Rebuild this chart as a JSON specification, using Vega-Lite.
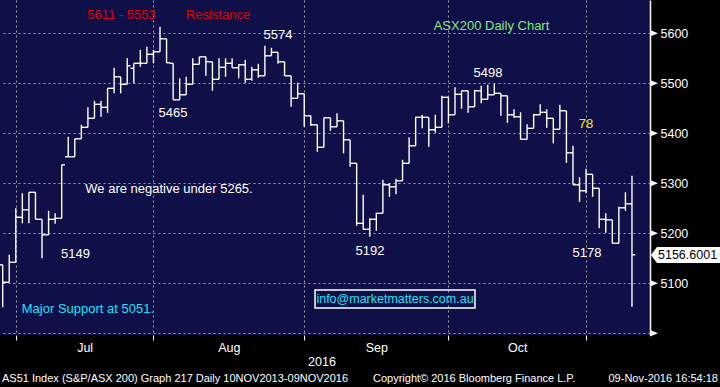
{
  "$schema": "https://vega.github.io/schema/vega-lite/v6.json",
  "width": 650,
  "height": 335,
  "autosize": {"type": "none"},
  "padding": {"left": 0, "top": 0, "right": 70, "bottom": 52},
  "background": "#000000",
  "config": {
    "font": "Liberation Sans",
    "view": {"fill": "#101048", "stroke": null}
  },
  "datasets": {
    "bars": [
      {"i":0,"o":5137,"h":5137,"l":5052,"c":5102},
      {"i":1,"o":5102,"h":5157,"l":5102,"c":5142},
      {"i":2,"o":5142,"h":5250,"l":5142,"c":5232},
      {"i":3,"o":5232,"h":5280,"l":5220,"c":5247},
      {"i":4,"o":5247,"h":5282,"l":5220,"c":5282},
      {"i":5,"o":5282,"h":5282,"l":5228,"c":5228},
      {"i":6,"o":5228,"h":5228,"l":5150,"c":5197},
      {"i":7,"o":5197,"h":5245,"l":5197,"c":5228},
      {"i":8,"o":5228,"h":5240,"l":5219,"c":5230},
      {"i":9,"o":5230,"h":5337,"l":5230,"c":5337},
      {"i":10,"o":5353,"h":5393,"l":5353,"c":5353},
      {"i":11,"o":5353,"h":5389,"l":5353,"c":5389},
      {"i":12,"o":5389,"h":5417,"l":5389,"c":5412},
      {"i":13,"o":5412,"h":5452,"l":5412,"c":5430},
      {"i":14,"o":5430,"h":5465,"l":5430,"c":5458},
      {"i":15,"o":5458,"h":5465,"l":5433,"c":5452},
      {"i":16,"o":5452,"h":5490,"l":5441,"c":5490},
      {"i":17,"o":5490,"h":5531,"l":5480,"c":5513},
      {"i":18,"o":5513,"h":5513,"l":5480,"c":5498},
      {"i":19,"o":5498,"h":5550,"l":5498,"c":5535},
      {"i":20,"o":5530,"h":5540,"l":5500,"c":5540},
      {"i":21,"o":5540,"h":5567,"l":5533,"c":5540},
      {"i":22,"o":5540,"h":5573,"l":5540,"c":5558},
      {"i":23,"o":5558,"h":5567,"l":5540,"c":5563},
      {"i":24,"o":5563,"h":5613,"l":5563,"c":5589},
      {"i":25,"o":5589,"h":5589,"l":5541,"c":5541},
      {"i":26,"o":5540,"h":5540,"l":5467,"c":5467},
      {"i":27,"o":5467,"h":5510,"l":5467,"c":5477},
      {"i":28,"o":5477,"h":5513,"l":5477,"c":5498},
      {"i":29,"o":5498,"h":5550,"l":5498,"c":5538},
      {"i":30,"o":5538,"h":5553,"l":5538,"c":5553},
      {"i":31,"o":5553,"h":5553,"l":5515,"c":5543},
      {"i":32,"o":5543,"h":5543,"l":5485,"c":5508},
      {"i":33,"o":5508,"h":5550,"l":5508,"c":5532},
      {"i":34,"o":5532,"h":5550,"l":5513,"c":5540},
      {"i":35,"o":5540,"h":5550,"l":5531,"c":5531},
      {"i":36,"o":5531,"h":5538,"l":5510,"c":5537},
      {"i":37,"o":5537,"h":5547,"l":5501,"c":5508},
      {"i":38,"o":5508,"h":5533,"l":5505,"c":5527},
      {"i":39,"o":5527,"h":5539,"l":5511,"c":5515},
      {"i":40,"o":5515,"h":5575,"l":5515,"c":5555},
      {"i":41,"o":5555,"h":5571,"l":5555,"c":5562},
      {"i":42,"o":5562,"h":5562,"l":5539,"c":5543},
      {"i":43,"o":5543,"h":5543,"l":5515,"c":5515},
      {"i":44,"o":5515,"h":5515,"l":5453,"c":5470},
      {"i":45,"o":5470,"h":5501,"l":5470,"c":5479},
      {"i":46,"o":5479,"h":5479,"l":5413,"c":5435},
      {"i":47,"o":5435,"h":5435,"l":5415,"c":5417},
      {"i":48,"o":5417,"h":5417,"l":5363,"c":5372},
      {"i":49,"o":5372,"h":5431,"l":5372,"c":5431},
      {"i":50,"o":5431,"h":5431,"l":5405,"c":5413},
      {"i":51,"o":5413,"h":5440,"l":5413,"c":5425},
      {"i":52,"o":5425,"h":5425,"l":5360,"c":5387},
      {"i":53,"o":5387,"h":5387,"l":5333,"c":5340},
      {"i":54,"o":5340,"h":5340,"l":5215,"c":5220},
      {"i":55,"o":5220,"h":5277,"l":5207,"c":5208},
      {"i":56,"o":5208,"h":5230,"l":5193,"c":5228},
      {"i":57,"o":5228,"h":5241,"l":5205,"c":5240},
      {"i":58,"o":5240,"h":5307,"l":5240,"c":5297},
      {"i":59,"o":5297,"h":5300,"l":5273,"c":5293},
      {"i":60,"o":5293,"h":5309,"l":5278,"c":5305},
      {"i":61,"o":5305,"h":5347,"l":5305,"c":5340},
      {"i":62,"o":5340,"h":5392,"l":5340,"c":5375},
      {"i":63,"o":5375,"h":5433,"l":5375,"c":5432},
      {"i":64,"o":5432,"h":5437,"l":5410,"c":5432},
      {"i":65,"o":5432,"h":5432,"l":5373,"c":5407},
      {"i":66,"o":5407,"h":5437,"l":5401,"c":5412},
      {"i":67,"o":5412,"h":5475,"l":5412,"c":5472},
      {"i":68,"o":5472,"h":5472,"l":5420,"c":5437},
      {"i":69,"o":5437,"h":5492,"l":5437,"c":5478},
      {"i":70,"o":5478,"h":5485,"l":5449,"c":5485},
      {"i":71,"o":5485,"h":5485,"l":5441,"c":5453},
      {"i":72,"o":5453,"h":5487,"l":5453,"c":5485},
      {"i":73,"o":5485,"h":5495,"l":5460,"c":5468},
      {"i":74,"o":5468,"h":5497,"l":5468,"c":5477},
      {"i":75,"o":5477,"h":5499,"l":5477,"c":5480},
      {"i":76,"o":5480,"h":5480,"l":5435,"c":5475},
      {"i":77,"o":5475,"h":5475,"l":5421,"c":5437},
      {"i":78,"o":5437,"h":5448,"l":5431,"c":5433},
      {"i":79,"o":5433,"h":5442,"l":5388,"c":5388},
      {"i":80,"o":5388,"h":5418,"l":5388,"c":5410},
      {"i":81,"o":5410,"h":5439,"l":5410,"c":5437},
      {"i":82,"o":5437,"h":5458,"l":5437,"c":5442},
      {"i":83,"o":5442,"h":5448,"l":5411,"c":5430},
      {"i":84,"o":5430,"h":5430,"l":5380,"c":5408},
      {"i":85,"o":5408,"h":5457,"l":5408,"c":5445},
      {"i":86,"o":5445,"h":5445,"l":5341,"c":5361},
      {"i":87,"o":5361,"h":5375,"l":5297,"c":5297},
      {"i":88,"o":5297,"h":5312,"l":5263,"c":5285},
      {"i":89,"o":5285,"h":5329,"l":5280,"c":5318},
      {"i":90,"o":5318,"h":5318,"l":5273,"c":5290},
      {"i":91,"o":5290,"h":5290,"l":5210,"c":5228},
      {"i":92,"o":5228,"h":5240,"l":5201,"c":5227},
      {"i":93,"o":5227,"h":5227,"l":5180,"c":5180},
      {"i":94,"o":5180,"h":5253,"l":5180,"c":5251},
      {"i":95,"o":5251,"h":5282,"l":5245,"c":5259},
      {"i":96,"o":5259,"h":5315,"l":5053,"c":5157}
    ],
    "majors": [{"v":5000},{"v":5100},{"v":5200},{"v":5300},{"v":5400},{"v":5500},{"v":5600}]
  },
  "layer": [
    {
      "data": {"name": "bars"},
      "mark": {"type": "rule", "color": "#ffffff", "strokeWidth": 1.4},
      "encoding": {
        "x": {
          "field": "i", "type": "quantitative",
          "scale": {"domain": [-0.41, 98.75], "nice": false, "zero": false},
          "axis": {
            "values": [2, 12.5, 23, 34.5, 46, 57, 68, 78.5, 89],
            "labelExpr": "datum.value == 12.5 ? 'Jul' : datum.value == 34.5 ? 'Aug' : datum.value == 57 ? 'Sep' : datum.value == 78.5 ? 'Oct' : ''",
            "title": null,
            "grid": true,
            "gridColor": "#a0a0a0",
            "gridDash": [2, 3],
            "gridWidth": 1,
            "gridOpacity": {"condition": {"test": "indexof([2,23,46,68,89], datum.value) >= 0", "value": 1}, "value": 0},
            "tickOpacity": {"condition": {"test": "indexof([2,23,46,68,89], datum.value) >= 0", "value": 1}, "value": 0},
            "domain": false,
            "tickColor": "#ffffff",
            "tickSize": 5,
            "tickWidth": 1,
            "labelColor": "#ffffff",
            "labelFontSize": 12.5,
            "labelPadding": 1,
            "labelFlush": false,
            "labelOverlap": false
          }
        },
        "y": {
          "field": "l", "type": "quantitative",
          "scale": {"domain": [4996.6, 5666.6], "nice": false, "zero": false},
          "axis": {
            "orient": "right",
            "values": [5000, 5050, 5100, 5150, 5200, 5250, 5300, 5350, 5400, 5450, 5500, 5550, 5600, 5650],
            "format": "d",
            "labelExpr": "datum.value % 100 == 0 && datum.value > 5000 ? datum.label : ''",
            "title": null,
            "grid": true,
            "gridColor": "#a0a0a0",
            "gridDash": [2, 3],
            "gridWidth": 1,
            "gridOpacity": {"condition": {"test": "datum.value % 100 == 0", "value": 1}, "value": 0},
            "domainColor": "#ffffff",
            "domainWidth": 1.5,
            "tickColor": "#ffffff",
            "tickSize": 4,
            "tickWidth": 1,
            "labelColor": "#ffffff",
            "labelFontSize": 12.5,
            "labelPadding": 6,
            "labelFlush": false,
            "labelOverlap": false
          }
        },
        "y2": {"field": "h"}
      }
    },
    {
      "data": {"name": "bars"},
      "mark": {"type": "tick", "orient": "horizontal", "color": "#ffffff", "size": 3.3, "thickness": 1.4, "xOffset": -1.65, "opacity": 1},
      "encoding": {
        "x": {"field": "i", "type": "quantitative", "title": null},
        "y": {"field": "o", "type": "quantitative", "title": null}
      }
    },
    {
      "data": {"name": "bars"},
      "mark": {"type": "tick", "orient": "horizontal", "color": "#ffffff", "size": 3.3, "thickness": 1.4, "xOffset": 1.65, "opacity": 1},
      "encoding": {
        "x": {"field": "i", "type": "quantitative", "title": null},
        "y": {"field": "c", "type": "quantitative", "title": null}
      }
    },
    {
      "data": {"name": "majors"},
      "mark": {"type": "point", "shape": "M 0 -0.4 L 1 0 L 0 0.4 Z", "size": 256, "filled": true, "color": "#ffffff", "opacity": 1, "strokeWidth": 0},
      "encoding": {
        "x": {"datum": 98.75},
        "y": {"field": "v", "type": "quantitative", "title": null}
      }
    },
    {
      "data": {"values": [{}]},
      "mark": {"type": "point", "shape": "M -1 0 L -0.83 -0.229 L 1 -0.229 L 1 0.229 L -0.83 0.229 Z", "size": 4900, "filled": true, "color": "#ffffff", "opacity": 1, "strokeWidth": 0, "xOffset": 36},
      "encoding": {"x": {"datum": 98.75}, "y": {"datum": 5156.6}}
    },
    {
      "data": {"values": [{}]},
      "mark": {"type": "text", "text": "5156.6001", "color": "#000000", "fontSize": 12.5, "align": "left", "baseline": "middle", "xOffset": 8},
      "encoding": {"x": {"datum": 98.75}, "y": {"datum": 5156.6}}
    },
    {
      "data": {"values": [{}]},
      "mark": {"type": "rect", "fill": null, "fillOpacity": 0, "stroke": "#ffffff", "strokeWidth": 1.5},
      "encoding": {"x": {"datum": 47.65}, "x2": {"datum": 72.05}, "y": {"datum": 5086.6}, "y2": {"datum": 5050.6}}
    },
    {
      "data": {"values": [{}]},
      "mark": {"type": "text", "text": "info@marketmatters.com.au", "color": "#1ee0f5", "fontSize": 12.5},
      "encoding": {"x": {"datum": 59.85}, "y": {"datum": 5068.6}}
    },
    {
      "data": {"values": [{}]},
      "mark": {"type": "text", "text": "5611 - 5553", "color": "#e00000", "fontSize": 13},
      "encoding": {"x": {"datum": 18.12}, "y": {"datum": 5636.6}}
    },
    {
      "data": {"values": [{}]},
      "mark": {"type": "text", "text": "Resistance", "color": "#e00000", "fontSize": 13},
      "encoding": {"x": {"datum": 32.85}, "y": {"datum": 5636.6}}
    },
    {
      "data": {"values": [{}]},
      "mark": {"type": "text", "text": "5574", "color": "#ffffff", "fontSize": 13},
      "encoding": {"x": {"datum": 42.0}, "y": {"datum": 5596.6}}
    },
    {
      "data": {"values": [{}]},
      "mark": {"type": "text", "text": "5465", "color": "#ffffff", "fontSize": 13},
      "encoding": {"x": {"datum": 25.98}, "y": {"datum": 5440.6}}
    },
    {
      "data": {"values": [{}]},
      "mark": {"type": "text", "text": "We are negative under 5265.", "color": "#ffffff", "fontSize": 13},
      "encoding": {"x": {"datum": 25.37}, "y": {"datum": 5288.6}}
    },
    {
      "data": {"values": [{}]},
      "mark": {"type": "text", "text": "5149", "color": "#ffffff", "fontSize": 13},
      "encoding": {"x": {"datum": 11.1}, "y": {"datum": 5159}}
    },
    {
      "data": {"values": [{}]},
      "mark": {"type": "text", "text": "Major Support at 5051.", "color": "#1ee0f5", "fontSize": 13},
      "encoding": {"x": {"datum": 13.0}, "y": {"datum": 5049.6}}
    },
    {
      "data": {"values": [{}]},
      "mark": {"type": "text", "text": "ASX200 Daily Chart", "color": "#80e880", "fontSize": 13},
      "encoding": {"x": {"datum": 74.57}, "y": {"datum": 5615.6}}
    },
    {
      "data": {"values": [{}]},
      "mark": {"type": "text", "text": "5498", "color": "#ffffff", "fontSize": 13},
      "encoding": {"x": {"datum": 74.03}, "y": {"datum": 5521.6}}
    },
    {
      "data": {"values": [{}]},
      "mark": {"type": "text", "text": "78", "color": "#f0f000", "fontSize": 13},
      "encoding": {"x": {"datum": 88.99}, "y": {"datum": 5418.6}}
    },
    {
      "data": {"values": [{}]},
      "mark": {"type": "text", "text": "5192", "color": "#ffffff", "fontSize": 13},
      "encoding": {"x": {"datum": 56.03}, "y": {"datum": 5165.6}}
    },
    {
      "data": {"values": [{}]},
      "mark": {"type": "text", "text": "5178", "color": "#ffffff", "fontSize": 13},
      "encoding": {"x": {"datum": 89.14}, "y": {"datum": 5161.6}}
    },
    {
      "data": {"values": [{}]},
      "mark": {"type": "text", "text": "2016", "color": "#ffffff", "fontSize": 12.5},
      "encoding": {"x": {"datum": 48.71}, "y": {"datum": 4942.6}}
    },
    {
      "data": {"values": [{}]},
      "mark": {"type": "text", "text": "AS51 Index (S&P/ASX 200) Graph 217  Daily 10NOV2013-09NOV2016", "color": "#ffffff", "fontSize": 11, "align": "left"},
      "encoding": {"x": {"datum": -0.11}, "y": {"datum": 4908.6}}
    },
    {
      "data": {"values": [{}]},
      "mark": {"type": "text", "text": "Copyright© 2016 Bloomberg Finance L.P.", "color": "#ffffff", "fontSize": 11, "align": "left"},
      "encoding": {"x": {"datum": 56.49}, "y": {"datum": 4908.6}}
    },
    {
      "data": {"values": [{}]},
      "mark": {"type": "text", "text": "09-Nov-2016 16:54:18", "color": "#ffffff", "fontSize": 11, "align": "right"},
      "encoding": {"x": {"datum": 109.12}, "y": {"datum": 4908.6}}
    }
  ]
}
